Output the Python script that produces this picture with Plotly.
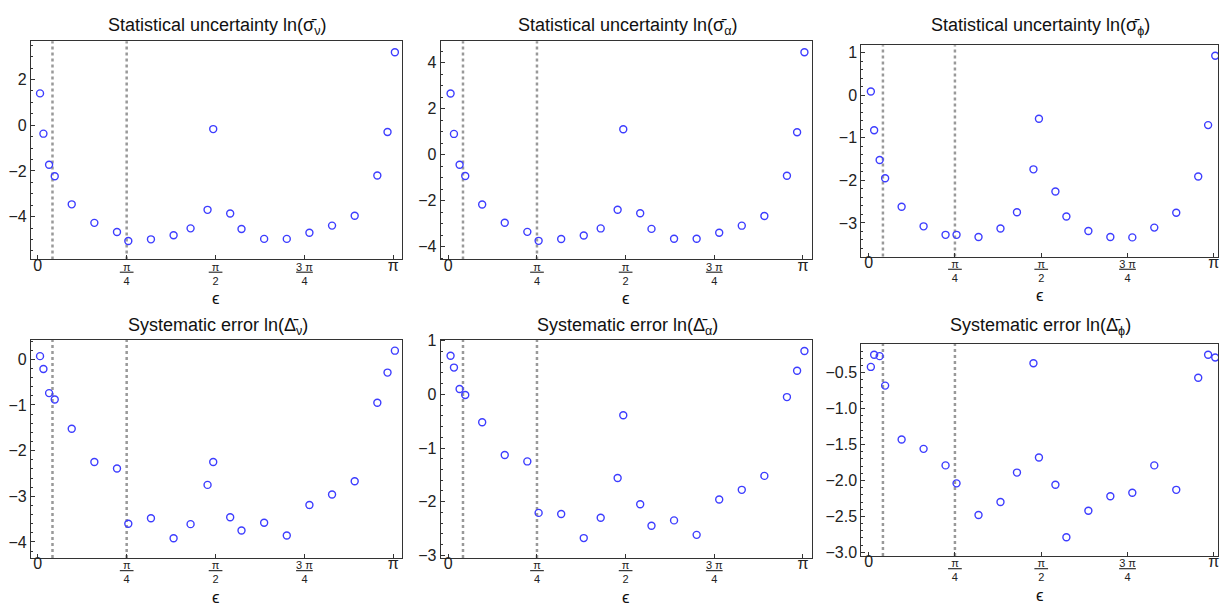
import math
import plotly.graph_objects as go

W, H = 1222, 606

eps = [0.02, 0.05, 0.1, 0.15, 0.3, 0.5, 0.7, 0.8, 1.0, 1.2, 1.35, 1.5, 1.55,
       1.7, 1.8, 2.0, 2.2, 2.4, 2.6, 2.8, 3.0, 3.09, 3.155]

stat_v = [1.39, -0.37, -1.73, -2.23, -3.46, -4.27, -4.67, -5.06, -4.99, -4.81, -4.51, -3.70,
          -0.17, -3.86, -4.54, -4.97, -4.97, -4.70, -4.39, -3.96, -2.20, -0.30, 3.19]
stat_a = [2.67, 0.91, -0.43, -0.92, -2.16, -2.95, -3.35, -3.74, -3.66, -3.51, -3.20, -2.39,
          1.11, -2.54, -3.22, -3.65, -3.65, -3.39, -3.08, -2.66, -0.91, 0.98, 4.46]
stat_p = [0.09, -0.82, -1.52, -1.95, -2.62, -3.08, -3.28, -3.28, -3.33, -3.13, -2.75, -1.74,
          -0.55, -2.26, -2.85, -3.19, -3.33, -3.34, -3.11, -2.76, -1.91, -0.70, 0.93]
sys_v = [0.07, -0.21, -0.74, -0.88, -1.52, -2.25, -2.39, -3.60, -3.48, -3.92, -3.61, -2.75,
         -2.25, -3.46, -3.75, -3.58, -3.86, -3.19, -2.96, -2.67, -0.95, -0.29, 0.19]
sys_a = [0.72, 0.50, 0.10, -0.01, -0.52, -1.13, -1.25, -2.21, -2.23, -2.68, -2.30, -1.56,
         -0.39, -2.05, -2.45, -2.35, -2.62, -1.96, -1.78, -1.52, -0.05, 0.44, 0.81]
sys_p = [-0.42, -0.25, -0.27, -0.68, -1.43, -1.56, -1.79, -2.04, -2.48, -2.30, -1.89, -0.37,
         -1.68, -2.06, -2.79, -2.42, -2.22, -2.17, -1.79, -2.13, -0.57, -0.25, -0.29]

vlines = [0.13, math.pi / 4]

titles = [
    "Statistical uncertainty ln(σ̄<sub>ν</sub>)",
    "Statistical uncertainty ln(σ̄<sub>α</sub>)",
    "Statistical uncertainty ln(σ̄<sub>ϕ</sub>)",
    "Systematic error ln(Δ̄<sub>ν</sub>)",
    "Systematic error ln(Δ̄<sub>α</sub>)",
    "Systematic error ln(Δ̄<sub>ϕ</sub>)",
]
series = [stat_v, stat_a, stat_p, sys_v, sys_a, sys_p]

xtick_vals = [0, math.pi / 4, math.pi / 2, 3 * math.pi / 4, math.pi]
big = "<span style='font-size:16px'>"
nb = "\u00a0"
xtick_text = [big + "0</span>",
              "<u>" + nb + "π" + nb + "</u><br>4",
              "<u>" + nb + "π" + nb + "</u><br>2",
              "<u>3" + nb + "π</u><br>4",
              big + "π</span>"]

# panel boxes in pixels: (left, right, top, bottom), title centre y
boxes = [(31, 402, 35, 258), (441, 813, 35, 258), (862, 1219, 39, 255),
         (31, 402, 340, 563), (441, 813, 340, 563), (862, 1219, 344, 561)]
title_y = [20, 20, 20, 326, 326, 327]
yranges = [(-5.87, 3.67), (-4.55, 4.94), (-3.79, 1.18),
           (-4.35, 0.43), (-3.05, 1.02), (-3.05, -0.096)]
ydticks = [2, 2, 1, 1, 1, 0.5]
yminor = [0.5, 0.5, 0.2, 0.2, 0.2, 0.1]
xranges = [(-0.06, 3.215), (-0.068, 3.225), (-0.067, 3.18),
           (-0.06, 3.215), (-0.068, 3.225), (-0.067, 3.18)]

font = "Liberation Sans, Arial, sans-serif"
fig = go.Figure()
layout = dict(width=W, height=H, margin=dict(l=0, r=0, t=0, b=0),
              paper_bgcolor="white", plot_bgcolor="white", showlegend=False,
              font=dict(family=font, color="#222"))
annotations = []
shapes = []
for i, (ys, (l, r, t, b)) in enumerate(zip(series, boxes)):
    k = "" if i == 0 else str(i + 1)
    xa, ya = "x" + k, "y" + k
    layout["xaxis" + k] = dict(
        domain=[l / W, r / W], anchor=ya, range=list(xranges[i]),
        tickmode="array", tickvals=xtick_vals, ticktext=xtick_text,
        ticks="inside", ticklen=4, tickwidth=1, tickcolor="#333",
        showline=True, linecolor="#333", linewidth=1, mirror=True,
        ticklabelstandoff=-3,
        showgrid=False, zeroline=False, tickfont=dict(size=11, color="#222"))
    layout["yaxis" + k] = dict(
        domain=[1 - b / H, 1 - t / H], anchor=xa, range=list(yranges[i]),
        dtick=ydticks[i], tick0=0, ticks="inside", ticklen=4, tickwidth=1,
        tickcolor="#333", showline=True, linecolor="#333", linewidth=1,
        mirror=True, showgrid=False, zeroline=False,
        tickformat=".1f" if i == 5 else "d",
        minor=dict(dtick=yminor[i], tick0=0, ticks="inside", ticklen=2,
                   tickcolor="#333", showgrid=False),
        tickfont=dict(size=16, color="#222"))
    for xv in vlines:
        shapes.append(dict(type="line", xref=xa, yref=ya + " domain",
                           x0=xv, x1=xv, y0=0, y1=1,
                           line=dict(color="#999999", width=2.5, dash="dot"),
                           layer="below"))
    fig.add_trace(go.Scatter(
        x=eps, y=ys, mode="markers", xaxis=xa, yaxis=ya,
        marker=dict(symbol="circle-open", size=7,
                    line=dict(color="#3d3dff", width=1.4), color="#3d3dff")))
    cx = (l + r) / 2 / W
    annotations.append(dict(text=titles[i], xref="paper", yref="paper",
                            x=cx + 0.001, y=1 - title_y[i] / H,
                            xanchor="center", yanchor="middle", showarrow=False,
                            font=dict(size=18, color="#111")))
    annotations.append(dict(text="ϵ", xref="paper", yref="paper",
                            x=cx, y=1 - (b + 40) / H,
                            xanchor="center", yanchor="middle", showarrow=False,
                            font=dict(size=17, color="#111")))

layout["annotations"] = annotations
layout["shapes"] = shapes
fig.update_layout(**layout)
fig.write_html("out.html", config={"displayModeBar": False},
               post_script="document.body.style.margin='0';"
                           "document.body.style.overflow='hidden';")
